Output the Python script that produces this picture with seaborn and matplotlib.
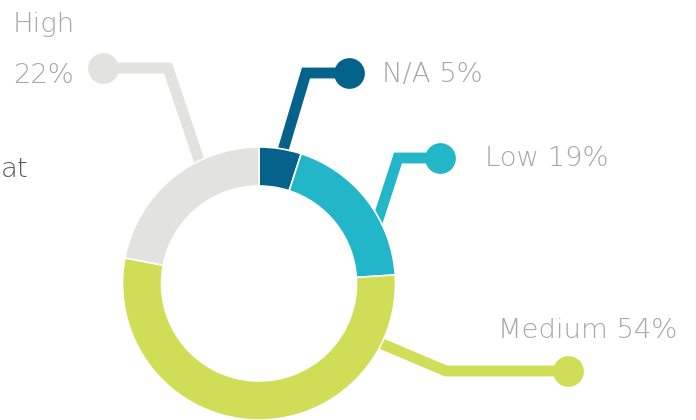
import matplotlib
matplotlib.use("Agg")
import matplotlib.pyplot as plt
import seaborn as sns
import pandas as pd

# Risk rating breakdown
labels = ["N/A", "Low", "Medium", "High"]
shares = [5, 19, 54, 22]
colors = ["#05628a", "#22b6c8", "#d0dd57", "#e2e2e1"]

sns.set_theme(style="white")
plt.rcParams["font.family"] = ["DejaVu Sans"]

W, H = 696, 420
fig = plt.figure(figsize=(W / 100, H / 100), dpi=100)
ax = fig.add_axes([0, 0, 1, 1])

# donut layout (pixel space, y pointing down)
cx, cy, r_out, ring = 259, 283.5, 136.5, 39

# leader lines: point inside ring -> elbow -> dot
leaders = {
    "N/A": [(278, 167), (306, 73), (349, 73)],
    "Low": [(373, 235), (398, 158), (440, 158)],
    "Medium": [(368, 338), (446, 371), (568, 371)],
    "High": [(205, 178), (168, 68), (103, 68)],
}
label_pos = {
    "N/A": (382, 82),
    "Low": (485, 166),
    "Medium": (498, 338),
}
text_color = "#a8a6a7"

for lab, col in zip(labels, colors):
    pts = pd.DataFrame(leaders[lab], columns=["x", "y"])
    sns.lineplot(data=pts, x="x", y="y", sort=False, estimator=None, color=col,
                 linewidth=7.8, solid_joinstyle="miter", solid_capstyle="butt",
                 ax=ax, zorder=1)
    dot = pts.iloc[[-1]]
    sns.scatterplot(data=dot, x="x", y="y", s=490, color=col, linewidth=0,
                    ax=ax, zorder=3)

# y axis points down, so increasing angle runs clockwise from the top
ax.pie(shares, colors=colors, startangle=270, counterclock=True,
       center=(cx, cy), radius=r_out,
       wedgeprops=dict(width=ring, edgecolor="white", linewidth=1.2, zorder=2))

fs = 19.7
txt = dict(fontsize=fs, fontweight="light", va="baseline")
for lab, share in zip(labels, shares):
    if lab in label_pos:
        x, y = label_pos[lab]
        ax.text(x, y, f"{lab} {share}%", color=text_color, ha="left", **txt)
ax.text(13, 32, "High", color=text_color, ha="left", **txt)
ax.text(13, 83, f"{shares[3]}%", color=text_color, ha="left", **txt)
ax.text(1, 177, "at", color="#595959", ha="left", **txt)

ax.set_xlim(0, W)
ax.set_ylim(H, 0)
ax.set_aspect("equal")
ax.set_axis_off()

fig.savefig("out.png", dpi=100, facecolor="white")
